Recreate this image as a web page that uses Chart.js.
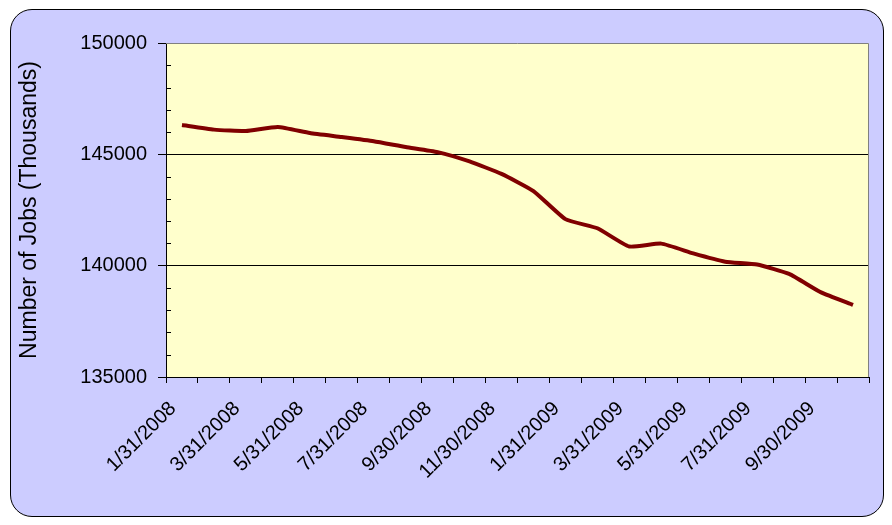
<!DOCTYPE html>
<html>
<head>
<meta charset="utf-8">
<script src="https://cdn.jsdelivr.net/npm/chart.js@4/dist/chart.umd.min.js"></script>
<style>
  html, body { margin: 0; padding: 0; background: #fff; }
  #frame {
    position: absolute; left: 10px; top: 9px;
    width: 872px; height: 506px;
    background: #ccccff;
    border: 1.5px solid #000;
    border-radius: 22px;
  }
  #wrap { position: absolute; left: 0; top: 0; width: 892px; height: 525px; }
</style>
</head>
<body>
<div id="frame"></div>
<div id="wrap"><canvas id="chart" width="892" height="525"></canvas></div>
<script>
// month-end dates, Jan 2008 - Oct 2009
const months = [
  '1/31/2008', '2/29/2008', '3/31/2008', '4/30/2008', '5/31/2008', '6/30/2008',
  '7/31/2008', '8/31/2008', '9/30/2008', '10/31/2008', '11/30/2008', '12/31/2008',
  '1/31/2009', '2/28/2009', '3/31/2009', '4/30/2009', '5/31/2009', '6/30/2009',
  '7/31/2009', '8/31/2009', '9/30/2009', '10/31/2009'
];

// jobs, thousands
const jobs = [
  146320, 146110, 146050, 146230, 145960, 145780,
  145590, 145330, 145100, 144680, 144120, 143350,
  142090, 141680, 140860, 140990, 140550, 140180,
  140050, 139630, 138800, 138240
];

const yTicks = [135000, 140000, 145000, 150000];

const FONT = '"Liberation Sans", Arial, sans-serif';

// yellow plot area + grey top/right border + inner minor ticks
const plotArea = {
  id: 'plotArea',
  beforeDraw(chart) {
    const { ctx, chartArea: a } = chart;
    ctx.save();
    ctx.fillStyle = '#ffffcc';
    ctx.fillRect(a.left, a.top, a.right - a.left, a.bottom - a.top);
    ctx.restore();
  },
  beforeDatasetsDraw(chart) {
    const { ctx, chartArea: a, scales } = chart;
    ctx.save();
    ctx.strokeStyle = '#808080';
    ctx.lineWidth = 1;
    ctx.beginPath();
    ctx.moveTo(a.left, a.top + 0.5);
    ctx.lineTo(a.right - 0.5, a.top + 0.5);
    ctx.lineTo(a.right - 0.5, a.bottom);
    ctx.stroke();
    // minor ticks every 1000
    ctx.strokeStyle = '#000';
    ctx.beginPath();
    for (let v = yTicks[0]; v <= yTicks[yTicks.length - 1]; v += 1000) {
      if (yTicks.includes(v)) continue;
      const py = Math.round(scales.y.getPixelForValue(v)) + 0.5;
      ctx.moveTo(a.left, py);
      ctx.lineTo(a.left + 5, py);
    }
    ctx.stroke();
    ctx.restore();
  }
};

new Chart(document.getElementById('chart'), {
  type: 'line',
  data: {
    labels: months,
    datasets: [{
      data: jobs,
      borderColor: '#800000',
      borderWidth: 4,
      pointRadius: 0,
      tension: 0.15,
      fill: false
    }]
  },
  options: {
    responsive: false,
    animation: false,
    layout: { padding: { top: 43, right: 23, left: 0, bottom: 0 } },
    plugins: { legend: { display: false }, tooltip: { enabled: false } },
    scales: {
      x: {
        offset: true,
        afterFit: s => { s.height = 148; },
        grid: {
          offset: true,
          drawOnChartArea: false,
          tickLength: 6,
          tickColor: '#000'
        },
        border: { color: '#000', width: 1 },
        ticks: {
          autoSkip: false,
          minRotation: 45,
          maxRotation: 45,
          padding: 14,
          labelOffset: -9,
          color: '#000',
          font: { family: FONT, size: 20 },
          callback: (v, i) => (i % 2 === 0 ? months[i] : '')
        }
      },
      y: {
        min: yTicks[0],
        max: yTicks[yTicks.length - 1],
        afterFit: s => { s.width = 166; },
        afterBuildTicks: s => { s.ticks = yTicks.map(v => ({ value: v })); },
        grid: {
          color: c => (c.tick && c.tick.value === yTicks[yTicks.length - 1] ? 'rgba(0,0,0,0)' : '#000'),
          tickColor: '#000',
          tickLength: 8
        },
        border: { color: '#000', width: 1 },
        ticks: {
          padding: 11,
          color: '#000',
          font: { family: FONT, size: 20 },
          callback: v => String(v)
        },
        title: {
          display: true,
          text: 'Number of Jobs (Thousands)',
          color: '#000',
          font: { family: FONT, size: 23 },
          padding: { top: 16, bottom: 0 }
        }
      }
    }
  },
  plugins: [plotArea]
});
</script>
</body>
</html>
